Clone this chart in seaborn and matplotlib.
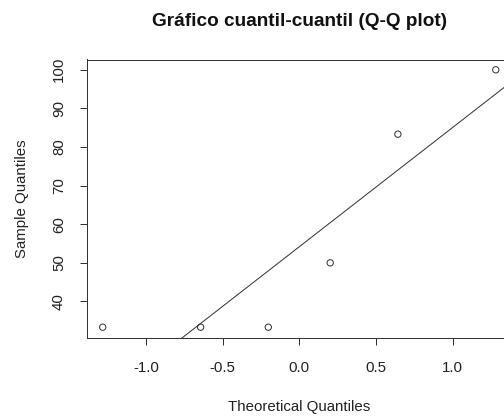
import numpy as np
import pandas as pd
import matplotlib
matplotlib.use("Agg")
import matplotlib.pyplot as plt
import seaborn as sns
from statistics import NormalDist

# Data
sample_values = [33.33, 33.33, 33.33, 50.0, 83.33, 100.0]
x_ticks = [-1.0, -0.5, 0.0, 0.5, 1.0]
y_ticks = [40, 50, 60, 70, 80, 90, 100]
title = "Gráfico cuantil-cuantil (Q-Q plot)"
xlabel = "Theoretical Quantiles"
ylabel = "Sample Quantiles"

sns.set_theme(style="white")
plt.rcParams['font.family'] = ['Liberation Sans', 'DejaVu Sans']

nd = NormalDist()
n = len(sample_values)
a = 3/8 if n <= 10 else 0.5
probs = [(i - a) / (n + 1 - 2 * a) for i in range(1, n + 1)]
theo = [nd.inv_cdf(p) for p in probs]
samp = sorted(sample_values)
df = pd.DataFrame({"theo": theo, "samp": samp})

# qqline through quartiles
q1, q3 = np.quantile(samp, [0.25, 0.75])
t1, t3 = nd.inv_cdf(0.25), nd.inv_cdf(0.75)
slope = (q3 - q1) / (t3 - t1)
intercept = q1 - slope * t1

W, H = 504, 416
fig = plt.figure(figsize=(W / 72, H / 72), dpi=72)
left, right, top, bottom = 87, 511.5, 59.5, 337.5
ax = fig.add_axes([left / W, 1 - bottom / H, (right - left) / W, (bottom - top) / H])

xmin, xmax = min(theo), max(theo)
xpad = 0.04 * (xmax - xmin)
ymin, ymax = min(samp), max(samp)
ypad = 0.04 * (ymax - ymin)
ax.set_xlim(xmin - xpad, xmax + xpad)
ax.set_ylim(ymin - ypad, ymax + ypad)

sns.scatterplot(data=df, x="theo", y="samp", ax=ax, marker="o", s=40,
                facecolor="none", edgecolor="#333333", linewidth=1.0, zorder=3)
line_x = np.array([xmin - xpad, xmax + xpad])
sns.lineplot(x=line_x, y=intercept + slope * line_x, ax=ax, color="#333333",
             linewidth=1.0)

for s in ax.spines.values():
    s.set_visible(True)
    s.set_color("#333333")
    s.set_linewidth(1.0)

ax.set_xticks(x_ticks)
ax.set_xticklabels([f"{v:.1f}" for v in x_ticks])
ax.set_yticks(y_ticks)
ax.set_yticklabels([str(v) for v in y_ticks], rotation=90, va="center")
ax.tick_params(axis="both", direction="out", length=7, width=1.0,
               color="#333333", labelsize=15, labelcolor="#222222",
               bottom=True, left=True)
ax.tick_params(axis="x", pad=17)
ax.tick_params(axis="y", pad=14)

ax.set_xlabel(xlabel, fontsize=15, color="#222222", labelpad=25)
ax.set_ylabel(ylabel, fontsize=15, color="#222222", labelpad=23)
fig.text((left + right) / 2 / W, 1 - 22 / H, title, ha="center", va="center",
         fontsize=19, fontweight="bold", color="#111111")

fig.savefig("out.png", dpi=72)
